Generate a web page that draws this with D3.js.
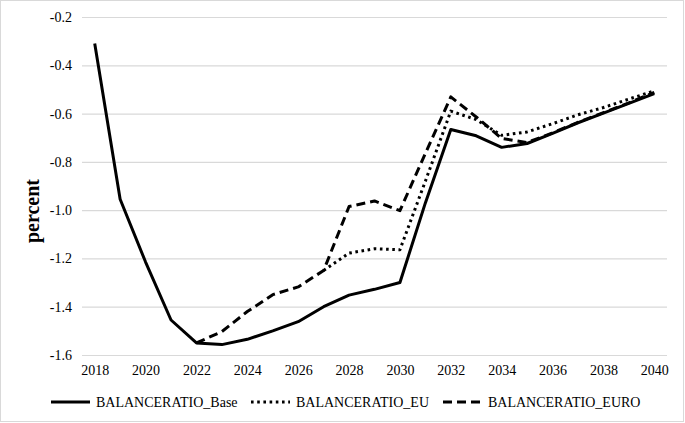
<!DOCTYPE html>
<html>
<head>
<meta charset="utf-8">
<script src="https://cdn.jsdelivr.net/npm/d3@7.9.0/dist/d3.min.js"></script>
<style>
  body { margin: 0; background: #fff; }
</style>
</head>
<body>
<svg id="chart" width="685" height="423"></svg>
<script>
const years = d3.range(2018, 2041);
const yearTicks = [2018, 2020, 2022, 2024, 2026, 2028, 2030, 2032, 2034, 2036, 2038, 2040];
const yTicks = [-1.6, -1.4, -1.2, -1.0, -0.8, -0.6, -0.4, -0.2];

// values, one per year (null = no point)
const base = [-0.31, -0.955, -1.215, -1.455, -1.55, -1.557, -1.535, -1.50, -1.462, -1.40, -1.352, -1.328, -1.30,
              -0.97, -0.666, -0.692, -0.74, -0.724, -0.682, -0.638, -0.598, -0.558, -0.517];
const eu = [null, null, null, null, null, null, null, null, null, -1.25, -1.178, -1.16, -1.164,
            -0.88, -0.59, -0.625, -0.69, -0.676, -0.642, -0.605, -0.575, -0.54, -0.506];
const euro = [null, null, null, null, -1.55, -1.503, -1.42, -1.35, -1.318, -1.25, -0.985, -0.962, -1.002,
              -0.765, -0.531, -0.614, -0.703, -0.72, -0.68, -0.636, -0.596, -0.556, -0.512];

const seriesNames = ["BALANCERATIO_Base", "BALANCERATIO_EU", "BALANCERATIO_EURO"];
const serif = '"Liberation Serif", "Times New Roman", serif';

const svg = d3.select("#chart");

// outer frame
svg.append("rect")
  .attr("x", 0.5).attr("y", 0.5).attr("width", 683).attr("height", 421)
  .attr("fill", "none").attr("stroke", "#d9d9d9");

const x = d3.scalePoint().domain(years).range([82, 667]).padding(0.5);
const y = d3.scaleLinear().domain([-1.6, -0.2]).range([355, 17]);

// y axis + gridlines
const yAxis = svg.append("g")
  .attr("transform", "translate(82,0)")
  .call(d3.axisLeft(y).tickValues(yTicks).tickSize(-585).tickPadding(10).tickFormat(d => d.toFixed(1)));
yAxis.select(".domain").remove();
yAxis.selectAll(".tick line").attr("stroke", "#d9d9d9").attr("stroke-width", 1.2);
yAxis.selectAll(".tick text").style("font-family", serif).style("font-size", "14px").attr("fill", "#000");

// x axis labels
const xAxis = svg.append("g")
  .attr("transform", "translate(0,355)")
  .call(d3.axisBottom(x).tickValues(yearTicks).tickSize(0).tickPadding(10));
xAxis.select(".domain").remove();
xAxis.selectAll(".tick text").style("font-family", serif).style("font-size", "14px").attr("fill", "#000");

// y title
svg.append("text")
  .attr("transform", "translate(39,211) rotate(-90)")
  .attr("text-anchor", "middle")
  .style("font-family", serif)
  .style("font-size", "20px")
  .style("font-weight", "bold")
  .text("percent");

const styles = [
  { dash: null, cap: "butt" },
  { dash: "2.6 3.6", cap: "butt" },
  { dash: "9 5", cap: "butt" }
];

const line = d3.line()
  .defined(d => d != null)
  .x((d, i) => x(years[i]))
  .y(d => y(d));

[base, eu, euro].forEach((vals, k) => {
  svg.append("path")
    .datum(vals)
    .attr("d", line)
    .attr("fill", "none")
    .attr("stroke", "#000")
    .attr("stroke-width", 3)
    .attr("stroke-linejoin", "round")
    .attr("stroke-linecap", styles[k].cap)
    .attr("stroke-dasharray", styles[k].dash);
});

// legend
const legendX = [51, 251, 443];
const legend = svg.append("g").attr("transform", "translate(0,402)");
seriesNames.forEach((name, k) => {
  legend.append("line")
    .attr("x1", legendX[k]).attr("x2", legendX[k] + 39)
    .attr("y1", 0).attr("y2", 0)
    .attr("stroke", "#000").attr("stroke-width", 3)
    .attr("stroke-dasharray", styles[k].dash);
  legend.append("text")
    .attr("x", legendX[k] + 45)
    .attr("y", 0)
    .attr("dy", "0.35em")
    .style("font-family", serif)
    .style("font-size", "14px")
    .text(name);
});
</script>
</body>
</html>
